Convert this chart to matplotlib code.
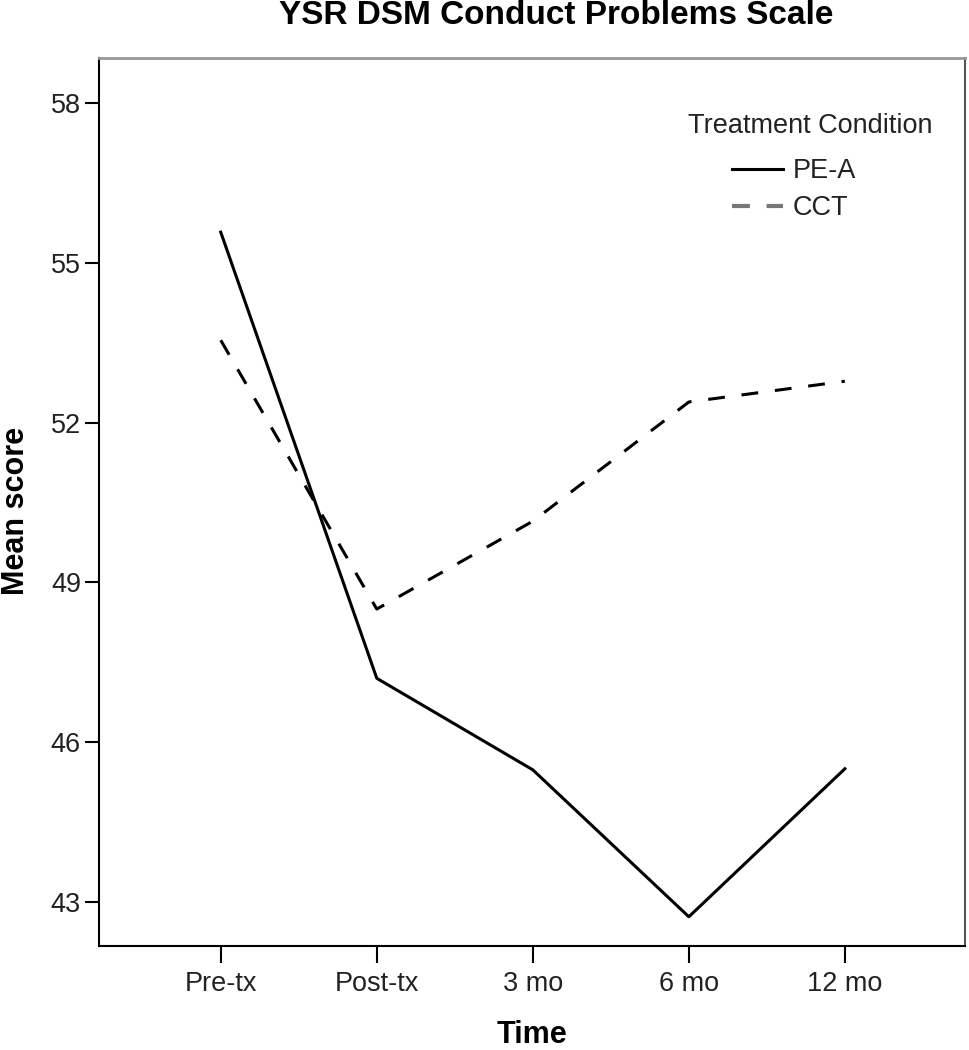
import matplotlib
matplotlib.use("Agg")
import matplotlib.pyplot as plt
from matplotlib.lines import Line2D

plt.rcParams['font.family'] = ['Liberation Sans', 'DejaVu Sans']

# Data
time_points = ["Pre-tx", "Post-tx", "3 mo", "6 mo", "12 mo"]
pea_means = [55.58, 47.20, 45.48, 42.72, 45.50]
cct_means = [53.55, 48.50, 50.15, 52.39, 52.78]
y_ticks = [43, 46, 49, 52, 55, 58]
series_names = ["PE-A", "CCT"]

fig = plt.figure(figsize=(9.69, 10.5), dpi=100)
ax = fig.add_axes([0.1022, 0.0990, 0.8937, 0.8457])

x = list(range(len(time_points)))
ax.plot(x, pea_means, color='black', lw=2.2)
ax.plot(x, cct_means, color='black', lw=2.2, linestyle=(0, (5.5, 5.5)))

ax.set_xlim(-0.78, 4.77)
ax.set_ylim(42.17, 58.85)
ax.set_xticks(x)
ax.set_xticklabels(time_points)
ax.set_yticks(y_ticks)

ax.tick_params(axis='x', length=12, width=1.5, pad=6, labelsize=19.5, labelcolor='#222222')
ax.tick_params(axis='y', length=10, width=1.5, pad=3, labelsize=19.5, labelcolor='#222222')

for side in ['left', 'bottom']:
    ax.spines[side].set_linewidth(1.5)
    ax.spines[side].set_color('black')
ax.spines['top'].set_color('#999999')
ax.spines['top'].set_linewidth(2)
ax.spines['right'].set_color('#555555')
ax.spines['right'].set_linewidth(1.5)

ax.set_ylabel("Mean score", fontsize=22, fontweight='bold', va='center')
ax.yaxis.set_label_coords(-0.0955, 0.49)
ax.set_xlabel("Time", fontsize=22, fontweight='bold', va='center')
ax.xaxis.set_label_coords(0.5, -0.100)

fig.text(556 / 969, 1 - 16 / 1050, "YSR DSM Conduct Problems Scale",
         fontsize=24, fontweight='bold', ha='center', va='center')

# legend: title as its own text, entries indented below it
ax.text(0.962, 0.924, "Treatment Condition", transform=ax.transAxes,
        fontsize=19.5, color='#222222', ha='right', va='center')
handles = [Line2D([], [], color='black', lw=2.2),
           Line2D([], [], color='#777777', lw=3.0, linestyle=(0, (4.3, 4.0)))]
leg = ax.legend(handles, series_names, loc='upper left',
                bbox_to_anchor=(0.731, 0.887), frameon=False,
                fontsize=19.5, handlelength=1.88, handletextpad=0.37,
                labelspacing=0.4, borderaxespad=0, borderpad=0)
for t in leg.get_texts():
    t.set_color('#222222')

fig.savefig("out.png", dpi=100)
